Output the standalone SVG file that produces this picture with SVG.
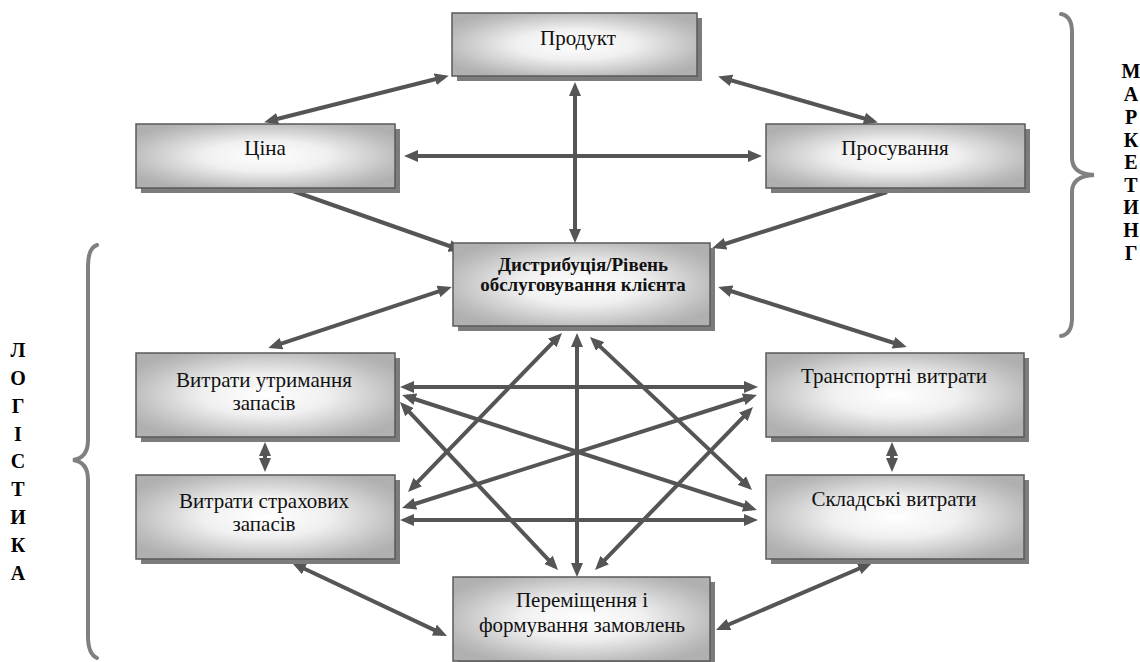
<svg xmlns="http://www.w3.org/2000/svg" width="1140" height="662" viewBox="0 0 1140 662">
  <style>
    .bg{fill:#ffffff}
    .conn{stroke:#555555;stroke-width:4;fill:none}
    .dbl{marker-start:url(#ah);marker-end:url(#ah)}
    .one{marker-end:url(#ah)}
    .shadow{fill:#7c7c7c}
    .box{fill:url(#grad);stroke:#5a5a5a;stroke-width:1.5}
    .t{font-family:"Liberation Serif","Times New Roman",serif;font-size:21px;fill:#111;text-anchor:middle}
    .tb{font-family:"Liberation Serif","Times New Roman",serif;font-size:19px;font-weight:bold;fill:#111;text-anchor:middle}
    .side{font-family:"Liberation Serif","Times New Roman",serif;font-size:20px;font-weight:bold;fill:#000;text-anchor:middle}
    .brace{stroke:#808080;stroke-width:4;fill:none;stroke-linecap:round}
  </style>
  <defs>
    <radialGradient id="grad" cx="0.5" cy="0.5" r="0.6">
      <stop offset="0" stop-color="#ffffff"/>
      <stop offset="0.4" stop-color="#f0f0f0"/>
      <stop offset="0.85" stop-color="#bdbdbd"/>
      <stop offset="1" stop-color="#b0b0b0"/>
    </radialGradient>
    <marker id="ah" markerUnits="userSpaceOnUse" markerWidth="14" markerHeight="12" viewBox="0 0 14 12" refX="9" refY="6" orient="auto-start-reverse">
      <path d="M0,0 L14,6 L0,12 Z" fill="#555555"/>
    </marker>
  </defs>
  <rect class="bg" x="0" y="0" width="1140" height="662"/>

  <g id="connectors">
    <line class="conn dbl" x1="444" y1="77" x2="269" y2="121"/>
    <line class="conn dbl" x1="723" y1="78" x2="873" y2="121"/>
    <line class="conn dbl" x1="409" y1="156" x2="757" y2="156"/>
    <line class="conn dbl" x1="575" y1="87" x2="575" y2="238"/>
    <line class="conn one" x1="290" y1="190" x2="458" y2="249"/>
    <line class="conn one" x1="887" y1="192" x2="717" y2="246.5"/>
    <line class="conn dbl" x1="273" y1="346.4" x2="447" y2="288.6"/>
    <line class="conn dbl" x1="723" y1="288.5" x2="902" y2="345.5"/>
    <line class="conn dbl" x1="405" y1="387" x2="753" y2="387"/>
    <line class="conn dbl" x1="405" y1="520" x2="753" y2="520"/>
    <line class="conn dbl" x1="406.8" y1="396.5" x2="752.2" y2="508.5"/>
    <line class="conn dbl" x1="406.8" y1="506.5" x2="752.2" y2="396.5"/>
    <line class="conn dbl" x1="403.4" y1="405.6" x2="554.6" y2="566.4"/>
    <line class="conn dbl" x1="749.5" y1="410.6" x2="598.5" y2="566.4"/>
    <line class="conn dbl" x1="411.5" y1="488.4" x2="558.5" y2="336.6"/>
    <line class="conn dbl" x1="748.4" y1="486.6" x2="593.6" y2="340.4"/>
    <line class="conn dbl" x1="577" y1="338" x2="577" y2="572"/>
    <line class="conn dbl" x1="265" y1="447" x2="265" y2="467"/>
    <line class="conn dbl" x1="892" y1="447" x2="892" y2="467"/>
    <line class="conn dbl" x1="296.5" y1="565" x2="442.5" y2="633.9"/>
    <line class="conn dbl" x1="867.4" y1="565" x2="720.6" y2="628"/>
  </g>

  <g id="node-product">
    <rect class="shadow" x="457" y="18" width="245" height="63"/>
    <rect class="box" x="452" y="13" width="245" height="63"/>
    <text class="t" x="578" y="45">Продукт</text>
  </g>
  <g id="node-price">
    <rect class="shadow" x="141" y="129" width="259" height="64"/>
    <rect class="box" x="136" y="124" width="259" height="64"/>
    <text class="t" x="265" y="155">Ціна</text>
  </g>
  <g id="node-promotion">
    <rect class="shadow" x="771" y="129" width="259" height="64"/>
    <rect class="box" x="766" y="124" width="259" height="64"/>
    <text class="t" x="895" y="155">Просування</text>
  </g>
  <g id="node-distribution">
    <rect class="shadow" x="458" y="248" width="257" height="83"/>
    <rect class="box" x="453" y="243" width="257" height="83"/>
    <text class="tb" x="583" y="271">Дистрибуція/Рівень</text>
    <text class="tb" x="583" y="291">обслуговування клієнта</text>
  </g>
  <g id="node-holding">
    <rect class="shadow" x="141" y="358" width="259" height="84"/>
    <rect class="box" x="136" y="353" width="259" height="84"/>
    <text class="t" x="264" y="387">Витрати утримання</text>
    <text class="t" x="264" y="410">запасів</text>
  </g>
  <g id="node-safety">
    <rect class="shadow" x="141" y="480" width="259" height="84"/>
    <rect class="box" x="136" y="475" width="259" height="84"/>
    <text class="t" x="264" y="508">Витрати страхових</text>
    <text class="t" x="264" y="531">запасів</text>
  </g>
  <g id="node-transport">
    <rect class="shadow" x="771" y="358" width="258" height="84"/>
    <rect class="box" x="766" y="353" width="258" height="84"/>
    <text class="t" x="894" y="383">Транспортні витрати</text>
  </g>
  <g id="node-warehouse">
    <rect class="shadow" x="771" y="480" width="258" height="84"/>
    <rect class="box" x="766" y="475" width="258" height="84"/>
    <text class="t" x="894" y="506">Складські витрати</text>
  </g>
  <g id="node-orders">
    <rect class="shadow" x="458" y="582" width="257" height="84"/>
    <rect class="box" x="453" y="577" width="257" height="84"/>
    <text class="t" x="582" y="607">Переміщення і</text>
    <text class="t" x="582" y="632">формування замовлень</text>
  </g>

  <g id="brace-marketing">
    <path class="brace" d="M1061,14 Q1072,16 1072,32 L1072,158 Q1072,174 1094,175 Q1072,176 1072,192 L1072,318 Q1072,334 1061,336"/>
    <text class="side" x="1131" y="78">М</text>
    <text class="side" x="1131" y="101">А</text>
    <text class="side" x="1131" y="124">Р</text>
    <text class="side" x="1131" y="147">К</text>
    <text class="side" x="1131" y="169">Е</text>
    <text class="side" x="1131" y="192">Т</text>
    <text class="side" x="1131" y="214">И</text>
    <text class="side" x="1131" y="237">Н</text>
    <text class="side" x="1131" y="260">Г</text>
  </g>
  <g id="brace-logistics">
    <path class="brace" d="M97,245 Q88,248 88,266 L88,440 Q88,458 73,460 Q88,462 88,480 L88,636 Q88,654 97,658"/>
    <text class="side" x="18" y="357">Л</text>
    <text class="side" x="18" y="385">О</text>
    <text class="side" x="18" y="413">Г</text>
    <text class="side" x="18" y="441">І</text>
    <text class="side" x="18" y="468">С</text>
    <text class="side" x="18" y="496">Т</text>
    <text class="side" x="18" y="524">И</text>
    <text class="side" x="18" y="552">К</text>
    <text class="side" x="18" y="580">А</text>
  </g>
</svg>
